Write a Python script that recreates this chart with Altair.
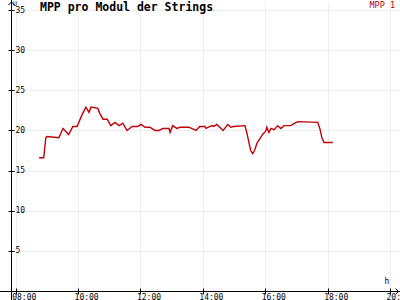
import altair as alt
import pandas as pd

# ---- data ----
times = ["08:45", "08:54", "08:58", "09:00", "09:23", "09:31", "09:42", "09:50", "09:58",
         "10:08", "10:15", "10:21", "10:25", "10:38", "10:42", "10:48", "10:56", "11:03",
         "11:11", "11:19", "11:26", "11:34", "11:44", "11:55", "12:01", "12:09", "12:18",
         "12:28", "12:36", "12:43", "12:53", "12:55", "12:57", "13:02", "13:10", "13:16",
         "13:33", "13:47", "13:54", "14:04", "14:06", "14:14", "14:18", "14:21", "14:27",
         "14:31", "14:39", "14:48", "14:54", "15:00", "15:21", "15:25", "15:29", "15:32",
         "15:36", "15:40", "15:44", "15:50", "15:56", "16:01", "16:03", "16:07", "16:11",
         "16:17", "16:24", "16:30", "16:36", "16:49", "16:57", "17:03", "17:41", "17:45",
         "17:49", "17:53", "18:10"]
values = [16.6, 16.6, 19.1, 19.25, 19.1, 20.25, 19.5, 20.5, 20.5,
          22.0, 22.9, 22.25, 22.9, 22.75, 22.1, 21.4, 21.4, 20.6,
          21.0, 20.6, 20.9, 20.0, 20.5, 20.5, 20.75, 20.4, 20.4,
          20.0, 20.0, 20.25, 20.25, 20.25, 19.75, 20.6, 20.25, 20.4,
          20.4, 20.0, 20.5, 20.5, 20.25, 20.5, 20.6, 20.5, 20.75,
          20.5, 20.0, 20.75, 20.4, 20.5, 20.6, 19.6, 18.4, 17.5,
          17.1, 17.6, 18.4, 19.0, 19.6, 19.9, 20.4, 19.75, 20.25,
          20.1, 20.6, 20.25, 20.6, 20.6, 20.9, 21.1, 21.0, 20.25,
          19.1, 18.5, 18.5]
x_tick_labels = ["08:00", "10:00", "12:00", "14:00", "16:00", "18:00", "20:00"]
y_tick_values = [5, 10, 15, 20, 25, 30, 35]
title_text = "MPP pro Modul der Strings"
series_name = "MPP 1"
y_unit = "U"
x_unit = "h"

RED = "#c00008"
GRID = "#eeeeee"
MONO = "DejaVu Sans Mono"

df = pd.DataFrame({"t": times, "v": values})
df["h"] = df["t"].str.slice(0, 2).astype(int) + df["t"].str.slice(3, 5).astype(int) / 60.0
x_ticks = [int(s[:2]) for s in x_tick_labels]

W, H = 389, 289
xscale = alt.Scale(domain=[7.85, 20.32], nice=False, zero=False)
yscale = alt.Scale(domain=[0, 36], nice=False, zero=False)

xaxis = alt.Axis(values=x_ticks, title=None, domain=False, offset=-3, tickSize=6,
                 tickColor="black", labelExpr="(datum.value < 10 ? '0' : '') + datum.value + ':00'",
                 labelFont=MONO, labelFontSize=8, labelColor="black", labelAlign="left",
                 labelBaseline="top", labelOffset=-4, labelPadding=-1, labelFlush=False,
                 labelOverlap=False, grid=True, gridColor=GRID)
yaxis = alt.Axis(values=y_tick_values, title=None, domain=False, offset=-3, tickSize=6,
                 tickColor="black", labelFont=MONO, labelFontSize=8, labelColor="black",
                 labelAlign="left", labelBaseline="middle", labelPadding=-7,
                 labelFlush=False, labelOverlap=False, grid=True, gridColor=GRID)

line = alt.Chart(df).mark_line(color=RED, strokeWidth=1.4, interpolate="linear").encode(
    x=alt.X("h:Q", scale=xscale, axis=xaxis),
    y=alt.Y("v:Q", scale=yscale, axis=yaxis),
)

one = pd.DataFrame({"k": [0]})
y_line = alt.Chart(one).mark_rule(color="black", strokeWidth=1).encode(
    x=alt.value(0.5), y=alt.value(-2), y2=alt.value(300))
x_line = alt.Chart(one).mark_rule(color="black", strokeWidth=1).encode(
    x=alt.value(-11), x2=alt.value(389), y=alt.value(289.5))
up_arrow = alt.Chart(one).mark_point(shape="M-1,1L0,0L1,1", filled=False, color="black",
                                     size=36, strokeWidth=1, opacity=1).encode(
    x=alt.value(0.5), y=alt.value(0))
right_arrow = alt.Chart(one).mark_point(shape="M-1,-1L0,0L-1,1", filled=False, color="black",
                                        size=36, strokeWidth=1, opacity=1).encode(
    x=alt.value(387.5), y=alt.value(289.5))

title = alt.Chart(pd.DataFrame({"s": [title_text]})).mark_text(
    font=MONO, fontSize=11.5, fontWeight="bold", align="left", baseline="middle", color="black"
).encode(x=alt.value(29), y=alt.value(6), text="s:N")
legend = alt.Chart(pd.DataFrame({"s": [series_name]})).mark_text(
    font=MONO, fontSize=8.5, align="right", baseline="middle", color=RED
).encode(x=alt.value(384), y=alt.value(3), text="s:N")
ulab = alt.Chart(pd.DataFrame({"s": [y_unit]})).mark_text(
    font=MONO, fontSize=6.5, align="left", baseline="top", color="black"
).encode(x=alt.value(2), y=alt.value(-1.5), text="s:N")
hlab = alt.Chart(pd.DataFrame({"s": [x_unit]})).mark_text(
    font=MONO, fontSize=8, align="center", baseline="middle", color="black"
).encode(x=alt.value(376), y=alt.value(280), text="s:N")

chart = alt.layer(line, y_line, x_line, up_arrow, right_arrow, title, legend, ulab, hlab).properties(
    width=W, height=H,
    autosize=alt.AutoSizeParams(type="none"),
    padding={"left": 11, "top": 2, "right": 0, "bottom": 9},
    background="white",
).configure_view(stroke=None)

chart.save("out.html", embed_options={"renderer": "svg", "actions": False})
